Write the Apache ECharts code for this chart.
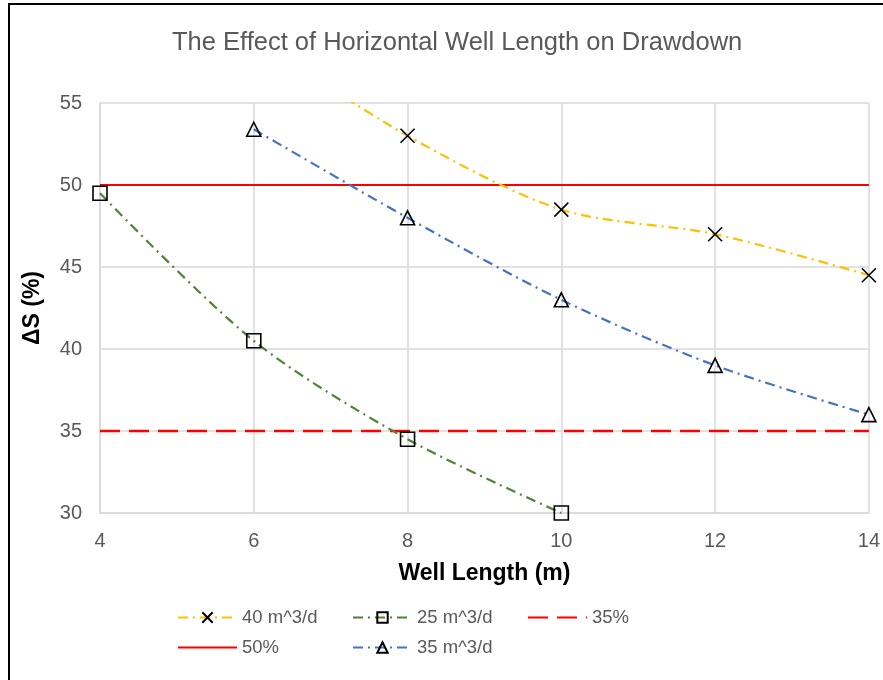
<!DOCTYPE html>
<html>
<head>
<meta charset="utf-8">
<script src="https://cdn.jsdelivr.net/npm/echarts@6/dist/echarts.min.js"></script>
<style>
	html,body{margin:0;padding:0;background:#fff;}
	#main{width:883px;height:680px;}
	.frame{position:absolute;left:8px;top:3px;width:900px;height:700px;border-left:2px solid #000;border-top:2px solid #000;pointer-events:none;}
</style>
</head>
<body>
<div id="main"></div>
<div class="frame"></div>
<script>
// 数据
var lengths40 = [6, 8, 10, 12, 14];
var values40 = [59, 53, 48.5, 47, 44.5];
var lengths25 = [4, 6, 8, 10];
var values25 = [49.5, 40.5, 34.5, 30];
var lengths35 = [6, 8, 10, 12, 14];
var values35 = [53.4, 48, 43, 39, 36];
var limitX = [4, 14];
var limit35 = [35, 35];
var limit50 = [50, 50];

function pairs(xs, ys){
	var out = [];
	for (var i = 0; i < xs.length; i++) {
		out.push([xs[i], ys[i]]);
	}
	return out;
}

var textGray = '#595959';
var font = 'Liberation Sans';
var markerStyle = {color: 'rgba(0,0,0,0)', borderColor: '#000', borderWidth: 1.6};
var hiddenMarker = {color: 'rgba(0,0,0,0)', borderWidth: 0};
var crossSymbol = 'path://M0,0L10,10M10,0L0,10';

var chart = echarts.init(document.getElementById('main'));
var legendBase = {
	orient: 'vertical',
	top: 603,
	itemWidth: 59,
	itemHeight: 13,
	itemGap: 11,
	textStyle: {color: textGray, fontSize: 18.5, fontFamily: font}
};
var option = {
	animation: false,
	backgroundColor: '#fff',
	title: {
		text: 'The Effect of Horizontal Well Length on Drawdown',
		left: 167,
		top: 25,
		textStyle: {color: textGray, fontSize: 25.5, fontWeight: 'normal', fontFamily: font}
	},
	legend: [
		Object.assign({}, legendBase, {left: 172, data: ['40 m^3/d', '50%']}),
		Object.assign({}, legendBase, {left: 347, data: ['25 m^3/d', '35 m^3/d']}),
		Object.assign({}, legendBase, {left: 522, data: ['35%']})
	],
	grid: {left: 100, right: 14, top: 103, bottom: 167},
	xAxis: {
		type: 'value',
		min: 4,
		max: 14,
		interval: 2,
		name: 'Well Length (m)',
		nameLocation: 'middle',
		nameGap: 49,
		nameTextStyle: {color: '#000', fontSize: 23, fontWeight: 'bold', fontFamily: font},
		axisLine: {lineStyle: {color: '#d9d9d9', width: 1.5}},
		axisTick: {show: false},
		axisLabel: {color: textGray, fontSize: 20, margin: 18, fontFamily: font},
		splitLine: {show: true, lineStyle: {color: '#d9d9d9', width: 1.5}}
	},
	yAxis: {
		type: 'value',
		min: 30,
		max: 55,
		interval: 5,
		name: 'ΔS (%)',
		nameLocation: 'middle',
		nameGap: 56,
		nameTextStyle: {color: '#000', fontSize: 23, fontWeight: 'bold', fontFamily: font},
		axisLine: {show: true, lineStyle: {color: '#d9d9d9', width: 1.5}},
		axisTick: {show: false},
		axisLabel: {color: textGray, fontSize: 20, margin: 18, fontFamily: font},
		splitLine: {show: true, lineStyle: {color: '#d9d9d9', width: 1.5}}
	},
	series: [
		{
			name: '40 m^3/d',
			type: 'line',
			smooth: 0.3,
			data: pairs(lengths40, values40),
			symbol: crossSymbol,
			symbolSize: 14,
			itemStyle: markerStyle,
			lineStyle: {color: '#FFC000', width: 2.2, type: [10, 5, 2, 5]},
			z: 5
		},
		{
			name: '25 m^3/d',
			type: 'line',
			smooth: 0.3,
			data: pairs(lengths25, values25),
			symbol: 'rect',
			symbolSize: 14,
			itemStyle: markerStyle,
			lineStyle: {color: '#548235', width: 2.2, type: [10, 5, 2, 5]},
			z: 5
		},
		{
			name: '35%',
			type: 'line',
			data: pairs(limitX, limit35),
			symbol: 'none',
			itemStyle: hiddenMarker,
			lineStyle: {color: '#FF0000', width: 2.6, type: [20, 9]},
			z: 3
		},
		{
			name: '50%',
			type: 'line',
			data: pairs(limitX, limit50),
			symbol: 'none',
			itemStyle: hiddenMarker,
			lineStyle: {color: '#FF0000', width: 2.2, type: 'solid'},
			z: 3
		},
		{
			name: '35 m^3/d',
			type: 'line',
			smooth: 0.3,
			data: pairs(lengths35, values35),
			symbol: 'triangle',
			symbolSize: 14,
			itemStyle: markerStyle,
			lineStyle: {color: '#4472C4', width: 2.2, type: [10, 5, 2, 5]},
			z: 5
		}
	]
};
chart.setOption(option);
</script>
</body>
</html>
